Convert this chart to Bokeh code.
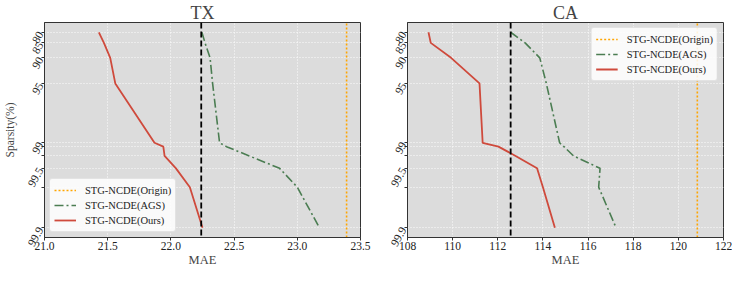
import math
from bokeh.plotting import figure
from bokeh.layouts import row
from bokeh.models import (Range1d, FixedTicker, Span, Legend, LegendItem,
                          PrintfTickFormatter, BasicTickFormatter)
from bokeh.embed import file_html
from bokeh.resources import INLINE

# ---------------- data ----------------
SPARSITY = [80, 85, 90, 95, 99, 99.1, 99.3, 99.5, 99.7, 99.9]
SPARSITY_LABELS = ["80", "85", "90", "95", "99", " ", " ", "99.5", " ", "99.9"]

TX_OURS = [21.43, 21.47, 21.52, 21.56, 21.87, 21.94, 21.95, 22.04, 22.15, 22.25]
TX_AGS = [22.245, 22.27, 22.31, 22.33, 22.385, 22.44, 22.62, 22.86, 23.00, 23.175]
TX_ORIGIN = 23.39
TX_DENSE = 22.24
TX_XTICKS = [21.0, 21.5, 22.0, 22.5, 23.0, 23.5]

CA_OURS = [108.93, 109.03, 109.93, 111.19, 111.33, 112.03, 112.79, 113.74, 114.0, 114.53]
CA_AGS = [112.57, 113.21, 113.86, 114.15, 114.74, 114.93, 115.36, 116.53, 116.47, 117.24]
CA_ORIGIN = 120.84
CA_DENSE = 112.57
CA_XTICKS = [108, 110, 112, 114, 116, 118, 120, 122]

LABEL_ORIGIN = "STG-NCDE(Origin)"
LABEL_AGS = "STG-NCDE(AGS)"
LABEL_OURS = "STG-NCDE(Ours)"

FONT = "Liberation Serif"
RED = "#cf4a3c"
GREEN = "#4b7d52"
ORANGE = "#ffa500"
BG = "#dcdcdc"
EDGE = "#333333"

# y axis: remaining share (100 - sparsity) on a log scale, 80% at the top
Y_LO, Y_HI = 0.0767, 26.06


def make(title, xr, xticks, xfmt, ours, ags, origin, dense, legend_loc,
         ylabel, width, mbl, mbr):
    p = figure(width=width, height=269, x_range=Range1d(*xr),
               y_range=Range1d(Y_LO, Y_HI), y_axis_type="log",
               output_backend="svg", toolbar_location=None, title=title,
               min_border_left=mbl, min_border_right=mbr,
               min_border_top=14, min_border_bottom=28)
    p.title.align = "center"
    p.title.text_font = FONT
    p.title.text_font_style = "normal"
    p.title.text_font_size = "18px"
    p.title.standoff = 0
    p.title.offset = 0
    p.background_fill_color = BG
    p.border_fill_color = "white"
    p.outline_line_color = EDGE
    p.outline_line_width = 1

    for g in (p.xgrid, p.ygrid):
        g.grid_line_color = "white"
        g.grid_line_dash = "1 2"
        g.grid_line_width = 1
        g.grid_line_alpha = 0.9

    yvals = [100 - s for s in SPARSITY]
    p.yaxis.ticker = FixedTicker(ticks=yvals)
    p.yaxis.formatter = BasicTickFormatter()
    p.yaxis.major_label_overrides = {v: lab for v, lab in zip(yvals, SPARSITY_LABELS)}
    p.yaxis.major_label_orientation = math.pi / 3
    p.xaxis.ticker = FixedTicker(ticks=xticks)
    p.xaxis.formatter = PrintfTickFormatter(format=xfmt)
    for ax in (p.xaxis[0], p.yaxis[0]):
        ax.axis_line_color = EDGE
        ax.major_tick_line_color = EDGE
        ax.major_tick_out = 3
        ax.major_tick_in = 0
        ax.minor_tick_line_color = None
        ax.major_label_text_font = FONT
        ax.major_label_text_font_size = "11.5px"
        ax.major_label_text_color = "#222222"
        ax.major_label_standoff = 1
        ax.axis_label_text_font = FONT
        ax.axis_label_text_font_style = "normal"
        ax.axis_label_standoff = 0
    p.xaxis.axis_label_text_font_size = "12.5px"
    p.yaxis.axis_label_text_font_size = "11.5px"
    p.yaxis.axis_label_standoff = 1
    p.xaxis.axis_label = "MAE"
    if ylabel:
        p.yaxis.axis_label = ylabel

    r_ours = p.line(ours, yvals, line_color=RED, line_width=1.8)
    r_ags = p.line(ags, yvals, line_color=GREEN, line_width=1.6,
                   line_dash="9 3 2 3")
    r_orig = p.line(x=[origin, origin], y=[Y_LO, Y_HI], line_color=ORANGE,
                    line_width=1.6, line_dash="2 2")
    p.add_layout(Span(location=dense, dimension="height", line_color="black",
                      line_width=1.8, line_dash="6 3"))

    legend = Legend(items=[LegendItem(label=LABEL_ORIGIN, renderers=[r_orig]),
                           LegendItem(label=LABEL_AGS, renderers=[r_ags]),
                           LegendItem(label=LABEL_OURS, renderers=[r_ours])],
                    location=legend_loc)
    legend.label_text_font = FONT
    legend.label_text_font_size = "10.5px"
    legend.label_text_color = "#222222"
    legend.background_fill_color = "white"
    legend.background_fill_alpha = 0.85
    legend.border_line_color = "#cccccc"
    legend.border_line_width = 1
    legend.border_radius = 3
    legend.glyph_width = 22
    legend.glyph_height = 14
    legend.label_height = 14
    legend.label_standoff = 9
    legend.spacing = 1
    legend.padding = 4
    legend.margin = 5
    p.add_layout(legend)
    return p


p1 = make("TX", (21.0, 23.5), TX_XTICKS, "%.1f", TX_OURS, TX_AGS, TX_ORIGIN,
          TX_DENSE, "bottom_left", "Sparsity(%)", 379, 44, 19)
p2 = make("CA", (108, 122), CA_XTICKS, "%d", CA_OURS, CA_AGS, CA_ORIGIN,
          CA_DENSE, "top_right", None, 353, 28, 9)

layout = row(p1, p2)
open("out.html", "w").write(file_html(layout, INLINE))
